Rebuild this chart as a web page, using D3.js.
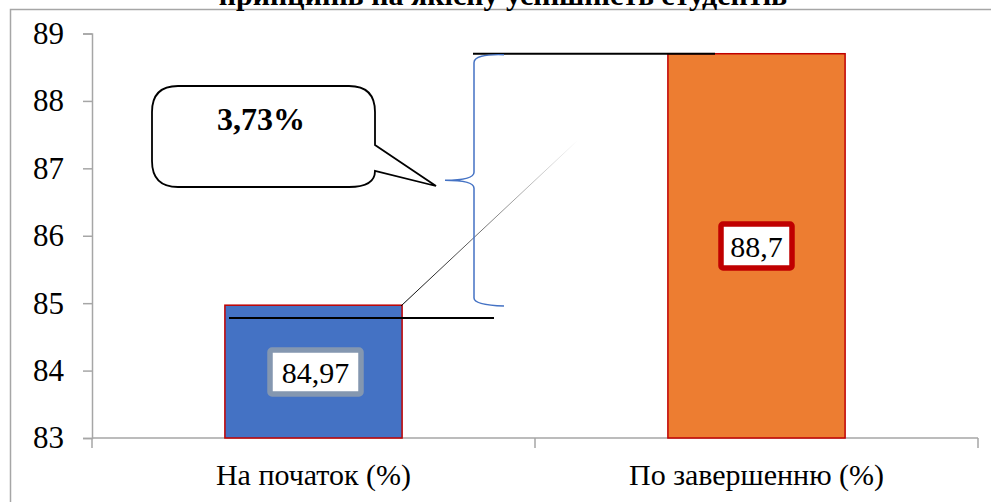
<!DOCTYPE html>
<html>
<head>
<meta charset="utf-8">
<script src="https://cdn.jsdelivr.net/npm/d3@7"></script>
<style>
  body { margin: 0; background: #fff; }
  svg text { font-family: "Times New Roman", "Liberation Serif", serif; }
</style>
</head>
<body>
<div id="chart"></div>
<script>
// data
var categories = ["На початок (%)", "По завершенню (%)"];
var values = [84.97, 88.7];
var valueLabels = ["84,97", "88,7"];
var yTicks = [83, 84, 85, 86, 87, 88, 89];
var title = "принципів на якісну успішність студентів";
var diffLabel = "3,73%";

var W = 991, H = 502;
var serif = "'Times New Roman', 'Liberation Serif', serif";

var svg = d3.select("#chart")
    .append("svg")
    .attr("width", W)
    .attr("height", H);

// chart frame
svg.append("rect")
    .attr("x", 10.5).attr("y", 9.5)
    .attr("width", 1000).attr("height", 600)
    .attr("fill", "none")
    .attr("stroke", "#a6a6a6")
    .attr("stroke-width", 1.5);

// title (cut off at the top, like the source)
svg.append("text")
    .attr("x", 503).attr("y", 5)
    .attr("text-anchor", "middle")
    .style("font-family", serif)
    .style("font-size", "30px")
    .style("font-weight", "bold")
    .text(title);

// scales
var x = d3.scaleBand()
    .domain(categories)
    .range([92, 978])
    .paddingInner(0.6)
    .paddingOuter(0.3);

var y = d3.scaleLinear()
    .domain([83, 89])
    .range([438, 33.5]);

// Y axis
var yAxis = svg.append("g")
    .attr("transform", "translate(92,0)")
    .call(d3.axisLeft(y).tickValues(yTicks).tickSize(9).tickPadding(19).tickFormat(d3.format("d")));
yAxis.attr("font-family", null).attr("font-size", null);
yAxis.select(".domain").attr("stroke", "#a6a6a6").attr("stroke-width", 1.5);
yAxis.selectAll(".tick line").attr("stroke", "#a6a6a6").attr("stroke-width", 1.5);
yAxis.selectAll(".tick text")
    .attr("fill", "#000")
    .style("font-size", "31px")
    .style("font-family", serif);

// X axis (line + category separators)
var xAxis = svg.append("g");
xAxis.append("line")
    .attr("x1", 92).attr("x2", 978)
    .attr("y1", y(83)).attr("y2", y(83))
    .attr("stroke", "#a6a6a6").attr("stroke-width", 1.5);
var bounds = [92, (92 + 978) / 2, 978];
xAxis.selectAll(".sep")
    .data(bounds)
    .enter()
    .append("line")
    .attr("x1", function(d) { return d; })
    .attr("x2", function(d) { return d; })
    .attr("y1", y(83))
    .attr("y2", y(83) + 10)
    .attr("stroke", "#a6a6a6").attr("stroke-width", 1.5);
xAxis.selectAll(".cat")
    .data(categories)
    .enter()
    .append("text")
    .attr("x", function(d) { return x(d) + x.bandwidth() / 2; })
    .attr("y", 485)
    .attr("text-anchor", "middle")
    .style("font-family", serif)
    .style("font-size", "30px")
    .text(function(d) { return d; });

// bars
var colors = ["#4472c4", "#ed7d31"];
svg.selectAll(".bar")
    .data(values)
    .enter()
    .append("rect")
    .attr("x", function(d, i) { return x(categories[i]); })
    .attr("y", function(d) { return y(d); })
    .attr("width", x.bandwidth())
    .attr("height", function(d) { return y(83) - y(d); })
    .attr("fill", function(d, i) { return colors[i]; })
    .attr("stroke", "#c00000")
    .attr("stroke-width", 1.5);

// value label boxes
var boxStroke = ["#8497b0", "#c00000"];
var boxCy = [372, 246];
var boxW = [91, 71];
values.forEach(function(v, i) {
    var cx = x(categories[i]) + x.bandwidth() / 2 + (i == 0 ? 2 : 0);
    svg.append("rect")
        .attr("x", cx - boxW[i] / 2)
        .attr("y", boxCy[i] - 22)
        .attr("width", boxW[i])
        .attr("height", 44)
        .attr("rx", 2)
        .attr("fill", "#fff")
        .attr("stroke", boxStroke[i])
        .attr("stroke-width", 5.5);
    svg.append("text")
        .attr("x", cx)
        .attr("y", boxCy[i])
        .attr("dy", "0.35em")
        .attr("text-anchor", "middle")
        .style("font-family", serif)
        .style("font-size", "30px")
        .text(valueLabels[i]);
});

// annotation: guide lines
svg.append("line")
    .attr("x1", 473).attr("x2", 715)
    .attr("y1", y(88.7)).attr("y2", y(88.7))
    .attr("stroke", "#000").attr("stroke-width", 2);
svg.append("line")
    .attr("x1", 229).attr("x2", 494)
    .attr("y1", y(84.78)).attr("y2", y(84.78))
    .attr("stroke", "#000").attr("stroke-width", 2);

// thin fading diagonal
var grad = svg.append("defs").append("linearGradient")
    .attr("id", "fade")
    .attr("gradientUnits", "userSpaceOnUse")
    .attr("x1", 402).attr("y1", 305).attr("x2", 578).attr("y2", 140);
grad.append("stop").attr("offset", "0").attr("stop-color", "#000").attr("stop-opacity", 1);
grad.append("stop").attr("offset", "1").attr("stop-color", "#000").attr("stop-opacity", 0);
svg.append("line")
    .attr("x1", 401).attr("y1", 306).attr("x2", 578).attr("y2", 140)
    .attr("stroke", "url(#fade)").attr("stroke-width", 1);

// brace
var bx = 474, bTop = y(88.7) + 1, bBot = 306, bMid = (bTop + bBot) / 2;
svg.append("path")
    .attr("d", "M" + (bx + 30) + "," + bTop +
        " Q" + bx + "," + (bTop - 1) + " " + bx + "," + (bTop + 8) +
        " L" + bx + "," + (bMid - 8) +
        " Q" + bx + "," + bMid + " " + (bx - 29) + "," + bMid +
        " Q" + bx + "," + bMid + " " + bx + "," + (bMid + 8) +
        " L" + bx + "," + (bBot - 8) +
        " Q" + bx + "," + (bBot - 1) + " " + (bx + 30) + "," + bBot)
    .attr("fill", "none")
    .attr("stroke", "#4472c4")
    .attr("stroke-width", 1.5);

// callout bubble
var cl = 152, ct = 86, cr = 375, cb = 187, rad = 26;
svg.append("path")
    .attr("d", "M" + (cl + rad) + "," + ct +
        " L" + (cr - rad) + "," + ct +
        " Q" + cr + "," + ct + " " + cr + "," + (ct + rad) +
        " L" + cr + "," + 145 +
        " L" + 436 + "," + 186 +
        " L" + cr + "," + 171 +
        " Q" + cr + "," + cb + " " + (cr - rad) + "," + cb +
        " L" + (cl + rad) + "," + cb +
        " Q" + cl + "," + cb + " " + cl + "," + (cb - rad) +
        " L" + cl + "," + (ct + rad) +
        " Q" + cl + "," + ct + " " + (cl + rad) + "," + ct + " Z")
    .attr("fill", "#fff")
    .attr("stroke", "#000")
    .attr("stroke-width", 1.8);
svg.append("text")
    .attr("x", 261).attr("y", 130)
    .attr("text-anchor", "middle")
    .style("font-family", serif)
    .style("font-size", "32px")
    .style("font-weight", "bold")
    .text(diffLabel);
</script>
</body>
</html>
